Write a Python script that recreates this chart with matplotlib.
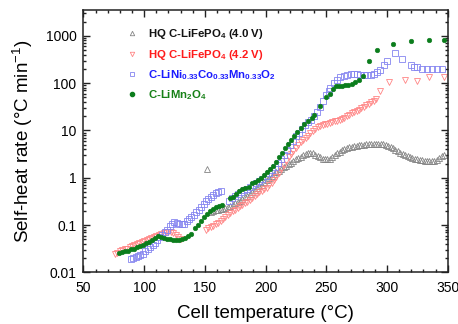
import matplotlib
matplotlib.use("Agg")
import matplotlib.pyplot as plt
from matplotlib.ticker import MultipleLocator, LogLocator, FuncFormatter, NullFormatter
from matplotlib.lines import Line2D

plt.rcParams['font.family'] = ['Liberation Sans', 'DejaVu Sans']
plt.rcParams['mathtext.fontset'] = 'custom'
plt.rcParams['mathtext.rm'] = 'Liberation Sans'
plt.rcParams['mathtext.bf'] = 'Liberation Sans:bold'
plt.rcParams['mathtext.default'] = 'regular'

# ---- data: cell temperature (°C) vs self-heat rate (°C/min) ----
# HQ C-LiFePO4 charged to 4.0 V
t_lfp40 = [152, 155, 157, 159, 161, 163, 165, 167, 169, 171, 173, 175, 177, 179, 181, 183,
           185, 187, 189, 191, 193, 195, 197, 199, 201, 203, 205, 207, 209, 211, 213, 215,
           217, 219, 221, 223, 225, 227, 229, 231, 233, 235, 237, 239, 241, 243, 245, 247,
           249, 251, 253, 255, 257, 259, 261, 263, 265, 267, 269, 271, 273, 275, 277, 279,
           281, 283, 285, 287, 289, 291, 293, 295, 297, 299, 301, 303, 305, 307, 309, 311,
           313, 315, 317, 319, 321, 323, 325, 327, 329, 331, 333, 335, 337, 339, 341, 343,
           345, 347]
r_lfp40 = [1.55, 0.19, 0.2, 0.205, 0.21, 0.215, 0.22, 0.23, 0.24, 0.25, 0.27, 0.29, 0.31, 0.33, 0.36, 0.39,
           0.42, 0.46, 0.5, 0.55, 0.6, 0.66, 0.72, 0.8, 0.9, 1.0, 1.1, 1.2, 1.3, 1.42, 1.55, 1.68,
           1.8, 1.95, 2.1, 2.3, 2.45, 2.6, 2.8, 3.0, 3.15, 3.3, 3.4, 3.3, 3.1, 2.9, 2.7, 2.55,
           2.45, 2.45, 2.55, 2.8, 3.1, 3.3, 3.55, 3.8, 4.05, 4.3, 4.45, 4.55, 4.65, 4.75, 4.85, 4.95,
           5.0, 5.1, 5.15, 5.2, 5.25, 5.3, 5.25, 5.2, 5.1, 4.9, 4.7, 4.5, 4.2, 3.9, 3.6, 3.4,
           3.2, 3.0, 2.85, 2.7, 2.6, 2.5, 2.45, 2.4, 2.35, 2.3, 2.25, 2.25, 2.25, 2.3, 2.4, 2.6,
           2.85, 3.1]

# HQ C-LiFePO4 charged to 4.2 V
t_lfp42 = [76, 78, 80, 82, 84, 86, 88, 90, 92, 94, 96, 98, 100, 102, 104, 106, 108, 110, 112,
           114, 116, 118, 120, 122, 124, 126, 128, 130,
           151, 153, 155, 157, 159, 161, 163, 165, 167, 169, 171, 173, 175, 177, 179, 181, 183,
           185, 187, 189, 191, 193, 195, 197, 199, 201, 203, 205, 207, 209, 211, 213, 215, 217,
           219, 221, 223, 225, 227, 229, 231, 233, 235, 237, 239, 241, 243, 245, 247, 249, 251,
           253, 255, 257, 259, 261, 263, 265, 267, 269, 271, 273, 275, 277, 279, 281, 283, 285,
           287, 289, 291, 294.5, 302, 314.5, 325, 335, 347]
r_lfp42 = [0.024, 0.026, 0.028, 0.03, 0.031, 0.032, 0.034, 0.036, 0.038, 0.04, 0.042, 0.044, 0.046,
           0.048, 0.05, 0.053, 0.056, 0.06, 0.063, 0.066, 0.068, 0.07, 0.071, 0.07, 0.067, 0.062,
           0.056, 0.05,
           0.08, 0.086, 0.092, 0.098, 0.105, 0.112, 0.122, 0.135, 0.15, 0.165, 0.18, 0.195, 0.21,
           0.23, 0.25, 0.27, 0.29, 0.31, 0.34, 0.38, 0.42, 0.45, 0.49, 0.53, 0.57, 0.62, 0.7, 0.78,
           0.9, 1.05, 1.25, 1.5, 1.85, 2.25, 2.7, 3.2, 3.7, 4.3, 5.0, 5.6, 6.3, 7.0, 7.8, 8.7, 9.8,
           10.8, 11.7, 12.4, 13, 13.5, 14, 14.5, 15, 15.6, 16.2, 16.9, 17.7, 18.7, 20, 21.5, 23,
           24.5, 26, 27.5, 29.5, 32, 34.5, 37, 39, 41, 46, 67, 105, 118, 110, 133, 135]

# C-LiNi1/3Co1/3Mn1/3O2
t_nmc = [89, 91, 93, 95, 97, 99, 101, 103, 105, 107, 109, 111, 113, 115, 117, 119, 121, 123,
         125, 127, 129, 131, 133, 135, 137, 139, 141, 143, 145, 147, 149, 151, 153, 155, 157,
         159, 161, 163,
         170, 172.5, 175, 177.5, 180, 182.5, 185, 187.5, 190, 192.5, 195, 197.5, 200, 202.5,
         205, 207.5, 210, 212.5, 215, 217.5, 220, 222.5, 225, 227.5, 230, 232.5, 235, 237.5,
         240, 242.5, 245, 247.5, 250, 252, 253.5, 256, 259, 261.5, 264.5, 267, 270, 272.5,
         275.5, 278, 281, 283.5, 286.5, 289, 292, 294.5, 297.5, 300, 307, 312.5, 319.5, 322,
         325, 329, 333, 337, 341, 345.5]
r_nmc = [0.019, 0.02, 0.021, 0.022, 0.023, 0.025, 0.028, 0.031, 0.034, 0.038, 0.042, 0.048,
         0.055, 0.062, 0.07, 0.08, 0.095, 0.108, 0.115, 0.113, 0.107, 0.104, 0.108, 0.12, 0.135,
         0.15, 0.165, 0.185, 0.21, 0.24, 0.28, 0.32, 0.36, 0.4, 0.44, 0.48, 0.51, 0.53,
         0.33, 0.37, 0.41, 0.46, 0.5, 0.55, 0.59, 0.64, 0.7, 0.78, 0.86, 0.96, 1.1, 1.27, 1.45,
         1.7, 2.05, 2.5, 3.1, 3.9, 4.9, 6.0, 7.5, 9.0, 11, 12.8, 14.8, 17, 20, 25, 32, 42, 55,
         68, 79, 101, 119, 133, 144, 151, 156, 158, 156, 151, 146, 146, 151, 158, 169, 192, 237,
         298, 432, 317, 237, 222, 215, 202, 199, 199, 199, 199]

# C-LiMn2O4
t_lmo = [79, 81.5, 84, 86.5, 89, 91.5, 94, 96.5, 99, 101.5, 104, 106.5, 109, 111.5, 114, 116.5,
         119, 121.5, 124, 126.5, 129, 131.5, 134, 136.5, 139, 142, 144.5, 147, 149.5, 152, 154.5,
         157, 159.5, 162, 164.5,
         171, 173.5, 176, 178.5, 181, 183.5, 186, 188.5, 191, 193.5, 196, 198.5, 201, 203.5, 206,
         208.5, 211, 213.5, 216, 218.5, 221, 223.5, 226, 229, 232, 235, 238, 240, 244.5, 250, 253,
         255.5, 258, 260.5, 263, 265.5, 268, 271, 274, 277, 280, 285, 292, 305, 320, 335, 347]
r_lmo = [0.026, 0.027, 0.028, 0.029, 0.031, 0.032, 0.034, 0.036, 0.038, 0.041, 0.045, 0.049,
         0.054, 0.058, 0.057, 0.054, 0.051, 0.05, 0.049, 0.048, 0.049, 0.051, 0.054, 0.059, 0.066,
         0.088, 0.103, 0.125, 0.15, 0.175, 0.2, 0.22, 0.24, 0.255, 0.265,
         0.37, 0.4, 0.46, 0.53, 0.58, 0.61, 0.65, 0.76, 0.83, 0.9, 1.0, 1.15, 1.35, 1.55, 1.8,
         2.2, 2.7, 3.3, 4.2, 5.2, 6.3, 7.8, 9.3, 11.5, 13.5, 15.5, 18.5, 21.5, 33, 50, 60, 77, 85,
         87, 88.5, 91, 93, 96, 104, 118, 140, 290, 500, 680, 760, 800, 810]

labels = [r'HQ C-LiFePO$_{\mathbf{4}}$ (4.0 V)',
          r'HQ C-LiFePO$_{\mathbf{4}}$ (4.2 V)',
          r'C-LiNi$_{\mathbf{0.33}}$Co$_{\mathbf{0.33}}$Mn$_{\mathbf{0.33}}$O$_{\mathbf{2}}$',
          r'C-LiMn$_{\mathbf{2}}$O$_{\mathbf{4}}$']
text_colors = ['#111111', '#ff1a1a', '#1a1aff', '#168016']

fig = plt.figure(figsize=(4.58, 3.24), dpi=100)
ax = fig.add_axes([0.182, 0.159, 0.7955, 0.810])

ax.plot(t_lfp40, r_lfp40, ls='none', marker='^', ms=3.9, mfc='none', mec='#858585', mew=0.6)
ax.plot(t_lfp42, r_lfp42, ls='none', marker='v', ms=3.9, mfc='none', mec='#ff8585', mew=0.6)
ax.plot(t_nmc, r_nmc, ls='none', marker='s', ms=4.0, mfc='none', mec='#8585f0', mew=0.6)
ax.plot(t_lmo, r_lmo, ls='none', marker='o', ms=3.3, mfc='#0b7d1c', mec='#0b7d1c', mew=0.4)

ax.set_yscale('log')
ax.set_xlim(50, 350)
ax.set_ylim(0.01, 3500)

ax.xaxis.set_major_locator(MultipleLocator(50))
ax.xaxis.set_minor_locator(MultipleLocator(10))
ax.yaxis.set_major_locator(LogLocator(base=10, numticks=10))
ax.yaxis.set_minor_locator(LogLocator(base=10, subs=range(2, 10), numticks=20))
ax.yaxis.set_major_formatter(FuncFormatter(lambda v, p: '{:g}'.format(v)))
ax.yaxis.set_minor_formatter(NullFormatter())

ax.tick_params(which='both', direction='in', top=True, right=True, width=1.0, color='#222222')
ax.tick_params(which='major', length=5, labelsize=10, pad=6)
ax.tick_params(which='minor', length=2.5)
ax.tick_params(axis='y', which='major', pad=5)
for s in ax.spines.values():
    s.set_linewidth(1.1)
    s.set_color('#222222')

ax.set_xlabel('Cell temperature (°C)', fontsize=13.5)
ax.set_ylabel(r'Self-heat rate (°C min$^{-1}$)', fontsize=13.5)
ax.xaxis.set_label_coords(0.5, -0.158)
ax.xaxis.label.set_va('center')
ax.yaxis.set_label_coords(-0.165, 0.5)
ax.yaxis.label.set_va('center')

handles = [
    Line2D([], [], ls='none', marker='^', ms=3.2, mfc='none', mec='#858585', mew=0.6),
    Line2D([], [], ls='none', marker='v', ms=3.2, mfc='none', mec='#ff8585', mew=0.6),
    Line2D([], [], ls='none', marker='s', ms=3.2, mfc='none', mec='#8585f0', mew=0.6),
    Line2D([], [], ls='none', marker='o', ms=3.0, mfc='#0b7d1c', mec='#0b7d1c'),
]
leg = ax.legend(handles, labels, loc='upper left', bbox_to_anchor=(0.117, 0.934),
                frameon=False, borderpad=0, borderaxespad=0, handlelength=1.0,
                handletextpad=0.93, labelspacing=0.55,
                prop={'size': 8.2, 'weight': 'bold'})
for txt, c in zip(leg.get_texts(), text_colors):
    txt.set_color(c)

fig.savefig('out.png', dpi=100)
